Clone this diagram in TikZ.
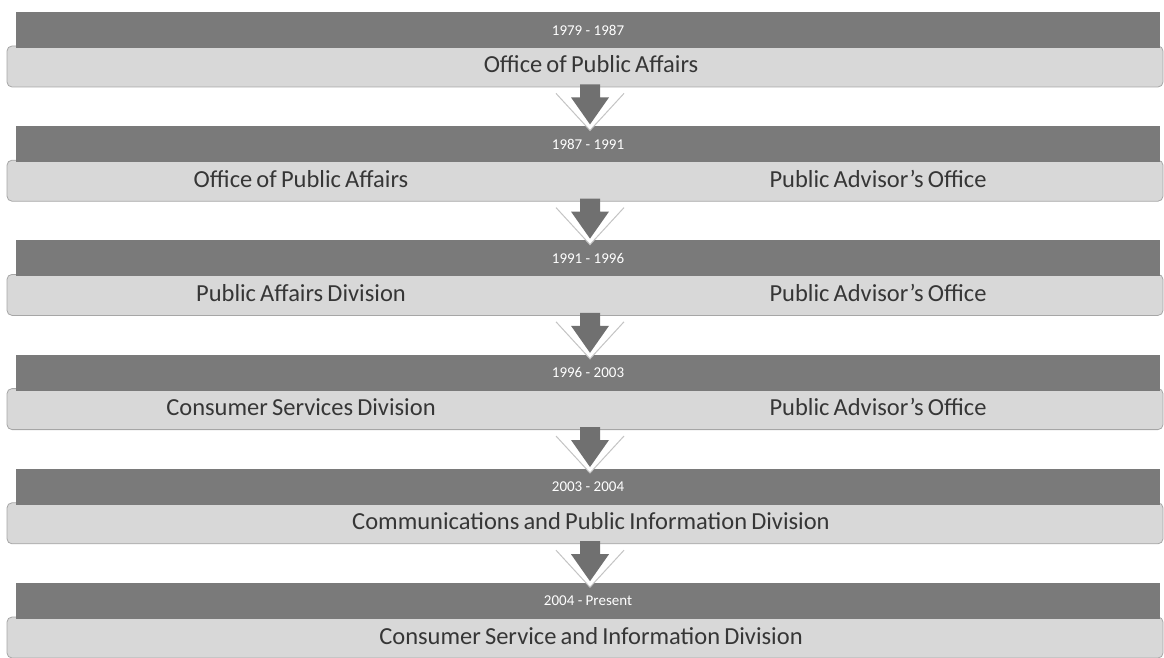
\documentclass[tikz,border=0pt]{standalone}
\usepackage{fontspec}
\setmainfont{Carlito}
\usetikzlibrary{calc}
\definecolor{barcol}{HTML}{7A7A7A}
\definecolor{boxcol}{HTML}{D8D8D8}
\definecolor{boxedge}{HTML}{A6A6A6}
\definecolor{txtcol}{HTML}{363636}
\definecolor{arrowcol}{HTML}{707070}
\definecolor{haloedge}{HTML}{C4C4C4}
\newcommand{\labelfont}{\fontsize{24.5}{28}\selectfont\spaceskip=0.17em plus 0.05em minus 0.05em\relax}
\tikzset{
  bar/.style={fill=barcol, minimum width=1144pt, minimum height=36pt, inner sep=0pt,
    text=white, font=\fontsize{15}{17}\selectfont},
  lightbox/.style={draw=boxedge, fill=boxcol, rounded corners=5pt, line width=0.8pt,
    minimum width=1156pt, minimum height=41pt, inner sep=0pt},
  label/.style={anchor=base, inner sep=0pt, text=txtcol, font=\labelfont},
}
\newcommand{\downarrowat}[1]{%
  \begin{scope}[shift={(#1)}]
    \fill[white] (-34,6) -- (0,43) -- (34,6) -- cycle;
    \draw[haloedge, line width=1pt] (-34,6) -- (0,43) -- (34,6);
    \fill[arrowcol] (-10,-3) -- (-10,10) -- (-19,10) -- (0,37) -- (19,10) -- (10,10) -- (10,-3) -- cycle;
  \end{scope}}
\begin{document}
\begin{tikzpicture}[x=1pt,y=-1pt]
\useasboundingbox (0,0) rectangle (1164,658);
% row tops: 12, 126.2, 240.4, 354.6, 468.8, 583
\node[lightbox] (box1) at (585,66.5) {};
\node[bar] (hdr1) at (588,30) {1979 - 1987};
\node[label] (t1) at (591,73) {Office of Public Affairs};

\node[lightbox] (box2) at (585,180.7) {};
\node[bar] (hdr2) at (588,144.2) {1987 - 1991};
\node[label] (t2a) at (301,187.2) {Office of Public Affairs};
\node[label] (t2b) at (878,187.2) {Public Advisor's Office};

\node[lightbox] (box3) at (585,294.9) {};
\node[bar] (hdr3) at (588,258.4) {1991 - 1996};
\node[label] (t3a) at (301,301.4) {Public Affairs Division};
\node[label] (t3b) at (878,301.4) {Public Advisor's Office};

\node[lightbox] (box4) at (585,409.1) {};
\node[bar] (hdr4) at (588,372.6) {1996 - 2003};
\node[label] (t4a) at (301,415.6) {Consumer Services Division};
\node[label] (t4b) at (878,415.6) {Public Advisor's Office};

\node[lightbox] (box5) at (585,523.3) {};
\node[bar] (hdr5) at (588,486.8) {2003 - 2004};
\node[label] (t5) at (591,529.8) {Communications and Public Information Division};

\node[lightbox] (box6) at (585,637.5) {};
\node[bar] (hdr6) at (588,601) {2004 - Present};
\node[label] (t6) at (591,644) {Consumer Service and Information Division};

\foreach \i in {1,...,5}{
  \coordinate (a\i) at ($(box\i.south)+(5,0)$);
  \downarrowat{a\i}
}
\end{tikzpicture}
\end{document}
